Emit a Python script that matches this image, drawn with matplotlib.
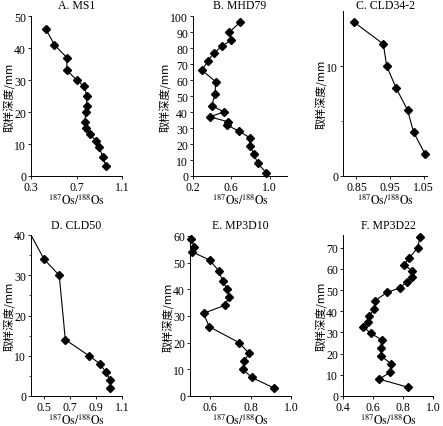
import matplotlib
matplotlib.use('Agg')
import matplotlib.pyplot as plt

# A. MS1
ms1_os = [0.43, 0.506, 0.615, 0.615, 0.703, 0.768, 0.79, 0.79, 0.78, 0.776, 0.785, 0.82, 0.87, 0.90, 0.93, 0.96]
ms1_depth = [46, 41, 37, 33, 30, 28, 25, 22, 20, 17, 15, 13, 11, 9, 6, 3]

# B. MHD79
mhd79_os = [0.69, 0.58, 0.60, 0.50, 0.42, 0.355, 0.295, 0.436, 0.43, 0.394, 0.524, 0.373, 0.56, 0.55,
            0.68, 0.79, 0.79, 0.834, 0.873, 0.965]
mhd79_depth = [96, 90, 85, 81, 77, 72, 66, 59, 51, 44, 40, 37, 34, 32, 28, 24, 19, 14, 8, 2]

# C. CLD34-2
cld34_os = [0.842, 0.93, 0.94, 0.968, 1.002, 1.02, 1.054]
cld34_depth = [14, 12, 10, 8, 6, 4, 2]

# D. CLD50 (first point lies outside the axes, only its line shows)
cld50_os = [0.38, 0.5, 0.617, 0.664, 0.846, 0.93, 0.975, 1.01, 1.01]
cld50_depth = [41.2, 34, 30, 14, 10, 8, 6, 4, 2]

# E. MP3D10
mp3d10_os = [0.503, 0.522, 0.512, 0.597, 0.642, 0.662, 0.685, 0.692, 0.672, 0.567, 0.595, 0.743,
             0.792, 0.768, 0.762, 0.805, 0.915]
mp3d10_depth = [59, 56, 54, 51, 47, 43, 40, 37, 34, 31, 26, 20, 16, 13, 10, 7, 3]

# F. MP3D22
mp3d22_os = [0.913, 0.898, 0.84, 0.807, 0.862, 0.858, 0.825, 0.78, 0.695, 0.613, 0.609, 0.575, 0.565,
             0.536, 0.585, 0.658, 0.653, 0.653, 0.72, 0.715, 0.64, 0.83]
mp3d22_depth = [75, 70, 65, 62, 59, 56, 54, 51, 49, 45, 41, 38, 35, 32.6, 29.6, 26.5, 22.8, 18.9,
                15.3, 11.1, 8, 4.2]

W, H = 443, 427
plt.rcParams['font.family'] = ['Liberation Serif', 'Noto Sans CJK SC']
plt.rcParams['mathtext.fontset'] = 'stix'
plt.rcParams['font.size'] = 8.5

fig = plt.figure(figsize=(W / 100, H / 100), dpi=100)


def panel(box, title_y, x, y, title, xlim, ylim, xticks, yticks, yminor=None, clip=False):
    left, right, top, bottom = box
    ax = fig.add_axes([left / W, 1 - bottom / H, (right - left) / W, (bottom - top) / H])
    ax.plot(x, y, color='black', lw=0.8, marker='D', ms=3.8, clip_on=clip)
    ax.set_xlim(xlim)
    ax.set_ylim(ylim)
    ax.set_xticks(xticks)
    ax.set_xticklabels(['%g' % t if t != 1.0 else '1.0' for t in xticks])
    ax.set_yticks(yticks)
    if yminor:
        ax.set_yticks(yminor, minor=True)
    ax.spines['top'].set_visible(False)
    ax.spines['right'].set_visible(False)
    ax.tick_params(length=2.5, width=0.6, pad=1)
    ax.tick_params(which='minor', length=1.5, width=0.5)
    for s in ['left', 'bottom']:
        ax.spines[s].set_linewidth(0.7)
    ax.text(0.5, (bottom - title_y) / (bottom - top), title, ha='center', va='center',
            fontsize=8.5, transform=ax.transAxes)
    ax.set_xlabel(r'$^{187}\mathrm{Os}/^{188}\mathrm{Os}$', fontsize=8.5, labelpad=0)
    ax.set_ylabel('取样深度/mm', family=['Noto Sans CJK SC'], fontsize=8, labelpad=0)
    return ax


panel((31, 122, 17, 177), 6, ms1_os, ms1_depth, 'A. MS1', (0.3, 1.1), (0, 50),
      [0.3, 0.7, 1.1], range(0, 51, 10))
panel((193, 287, 17, 177), 6, mhd79_os, mhd79_depth, 'B. MHD79', (0.2, 1.18), (0, 100),
      [0.2, 0.6, 1.0], range(0, 101, 10))
panel((343, 427, 12, 177), 6, cld34_os, cld34_depth, 'C. CLD34-2', (0.81, 1.06), (0, 15),
      [0.85, 0.95, 1.05], [0, 10], yminor=[5])
panel((31, 122, 236, 397), 226, cld50_os, cld50_depth, 'D. CLD50', (0.4, 1.1), (0, 40),
      [0.5, 0.7, 0.9, 1.1], range(0, 41, 10), yminor=[5, 15, 25, 35], clip=True)
panel((190, 291, 237, 397), 226, mp3d10_os, mp3d10_depth, 'E. MP3D10', (0.5, 1.0), (0, 60),
      [0.6, 0.8, 1.0], range(0, 61, 10))
panel((343, 433, 236, 397), 226, mp3d22_os, mp3d22_depth, 'F. MP3D22', (0.4, 1.0), (0, 76),
      [0.4, 0.6, 0.8, 1.0], range(0, 71, 10))

fig.savefig('out.png', dpi=100)
